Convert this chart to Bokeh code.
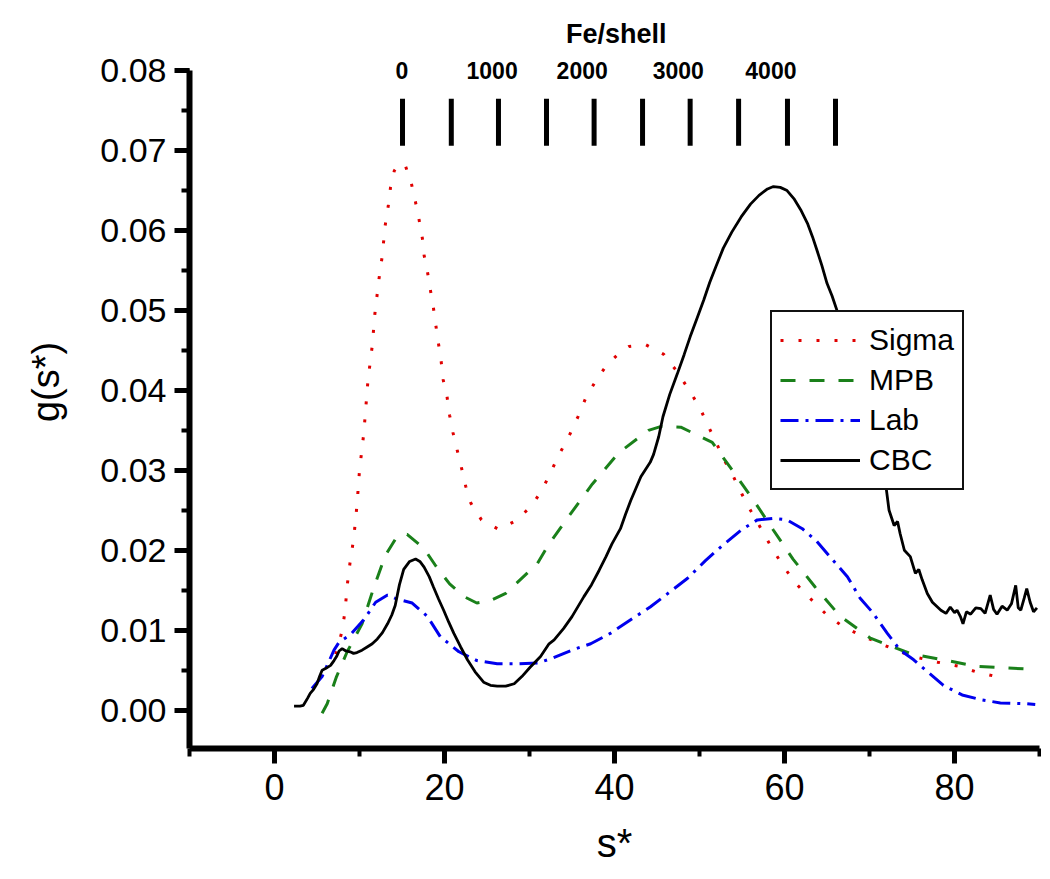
from bokeh.plotting import figure
from bokeh.models import SingleIntervalTicker, PrintfTickFormatter, Legend, LegendItem
from bokeh.core.properties import value
from bokeh.embed import file_html
from bokeh.resources import INLINE

# ---------------- data ----------------
sigma_s = [7.2, 7.6, 8.0, 8.3, 8.6, 8.95, 9.3, 9.7, 10.0, 10.5, 11.0, 11.5, 11.8, 12.3, 12.7, 13.0,
           13.4, 13.65, 14.1, 14.7, 15.4, 16.1, 16.6, 17.0, 17.4, 17.6, 18.0, 18.35, 18.7, 19.0,
           19.3, 19.6, 19.85, 20.3, 20.6, 21.0, 21.5, 22.0, 22.5, 23.1, 24.35, 26.4, 28.4, 30.3,
           31.6, 33.6, 34.7, 35.7, 36.6, 37.8, 39.1, 40.9, 41.7, 43.7, 45.8, 47.4, 48.8, 50.0,
           51.0, 52.0, 52.9, 54.0, 55.0, 56.1, 57.3, 58.5, 59.8, 61.2, 63.0, 64.8, 66.8, 68.9,
           70.9, 73.1, 75.2, 78.0, 80.5, 82.5, 84.5]
sigma_g = [0.0070, 0.0085, 0.0101, 0.0125, 0.0160, 0.0190, 0.0213, 0.0256, 0.0300, 0.0346, 0.0413,
           0.0456, 0.0495, 0.0540, 0.0570, 0.0605, 0.0632, 0.0654, 0.0675, 0.0684, 0.0681, 0.0659,
           0.0635, 0.0614, 0.0590, 0.0569, 0.0548, 0.0525, 0.0503, 0.0480, 0.0458, 0.0437, 0.0413,
           0.0392, 0.0369, 0.0347, 0.0325, 0.0303, 0.0280, 0.0259, 0.0238, 0.0226, 0.0237, 0.0256,
           0.0278, 0.0322, 0.0344, 0.0367, 0.0390, 0.0412, 0.0432, 0.0450, 0.0455, 0.0457, 0.0445,
           0.0423, 0.0400, 0.0379, 0.0356, 0.0334, 0.0313, 0.0292, 0.0270, 0.0248, 0.0226, 0.0203,
           0.0181, 0.0160, 0.0140, 0.0121, 0.0105, 0.0094, 0.0085, 0.0075, 0.0067, 0.0060, 0.0055,
           0.0048, 0.0043]

mpb_s = [5.6, 6.2, 7.3, 8.55, 10.3, 11.7, 13.06, 14.4, 15.6, 17.6, 19.0, 20.6, 22.3, 23.8, 25.4,
         27.2, 29.7, 30.9, 32.3, 35.0, 37.4, 40.5, 44.0, 45.5, 47.8, 51.5, 54.0, 56.4, 58.7, 61.0,
         63.6, 66.5, 70.1, 75.0, 78.7, 82.5, 85.8, 89.5]
mpb_g = [-0.0004, 0.0008, 0.0042, 0.0073, 0.0108, 0.0154, 0.0194, 0.0217, 0.0220, 0.0202, 0.0180,
         0.0158, 0.0142, 0.0134, 0.0137, 0.0146, 0.0171, 0.0183, 0.0208, 0.0248, 0.0283, 0.0322,
         0.0350, 0.0355, 0.0354, 0.0335, 0.0298, 0.0262, 0.0225, 0.0189, 0.0154, 0.0118, 0.0090,
         0.0070, 0.0063, 0.0055, 0.0053, 0.0051]

lab_s = [4.4, 5.6, 7.0, 7.6, 8.9, 10.5, 11.9, 13.3, 14.4, 16.2, 18.0, 19.5, 21.7, 23.8, 26.2, 28.6,
         31.0, 32.7, 35.2, 37.2, 39.5, 41.9, 44.2, 46.4, 48.6, 50.7, 52.7, 55.0, 56.8, 58.7, 60.3,
         62.1, 63.8, 65.5, 67.4, 68.9, 70.3, 72.1, 73.6, 75.2, 76.6, 78.7, 80.9, 83.1, 85.4, 88.5, 89.5]
lab_g = [0.0027, 0.0042, 0.0075, 0.0085, 0.0094, 0.0113, 0.0135, 0.0144, 0.0139, 0.0134, 0.0117,
         0.0092, 0.0073, 0.0062, 0.0058, 0.0058, 0.0059, 0.0065, 0.0076, 0.0083, 0.0096, 0.0113,
         0.0129, 0.0147, 0.0165, 0.0187, 0.0206, 0.0226, 0.0238, 0.0240, 0.0238, 0.0227, 0.0211,
         0.0190, 0.0167, 0.0140, 0.0123, 0.0096, 0.0075, 0.0063, 0.0050, 0.0031, 0.0019, 0.0013,
         0.0009, 0.0008, 0.0007]

cbc_s = [2.3, 3.0, 3.4, 3.9, 4.2, 4.6, 5.0, 5.3, 5.6, 6.0, 6.6, 7.0, 7.3, 7.6, 7.96, 8.4, 8.9, 9.3,
         9.7, 10.3, 10.9, 11.5, 12.1, 12.7, 13.3, 13.8, 14.2, 14.7, 15.2, 15.9, 16.6, 17.1, 17.6,
         18.2, 18.7, 19.3, 19.9, 20.5, 21.1, 21.9, 22.7, 23.6, 24.6, 25.4, 26.2, 27.2, 28.2, 29.1,
         30.1, 31.3, 32.3, 32.9, 34.0, 35.0, 36.4, 37.3, 38.2, 39.0, 39.7, 40.7, 41.3, 41.9, 42.5,
         43.1, 44.2, 44.6, 45.2, 45.7, 46.5, 47.4, 48.2, 48.9, 49.7, 50.5, 51.2, 51.9, 52.8, 53.8,
         54.9, 56.0, 57.0, 58.0, 58.7, 59.5, 60.3, 61.1, 61.9, 62.7, 63.3, 63.8, 64.4, 65.0, 65.6,
         66.3, 68.0, 70.0, 71.9, 72.3, 72.9, 73.3, 73.6, 74.1, 74.8, 75.4, 75.8, 76.2, 76.8, 77.4,
         77.9, 78.4, 79.0, 79.5, 80.0, 80.3, 80.7, 81.0, 81.4, 81.9, 82.5, 83.1, 83.6, 84.2, 84.6,
         85.0, 85.6, 86.2, 86.7, 87.2, 87.5, 87.8, 88.2, 88.5, 88.9, 89.3, 89.7]
cbc_g = [0.0005, 0.0005, 0.0006, 0.0015, 0.0021, 0.0026, 0.0033, 0.0042, 0.0050, 0.0052, 0.0056,
         0.0062, 0.0067, 0.0074, 0.0077, 0.0074, 0.0073, 0.0071, 0.0072, 0.0075, 0.0079, 0.0083,
         0.0089, 0.0097, 0.0108, 0.0119, 0.0131, 0.0157, 0.0176, 0.0186, 0.0189, 0.0186, 0.0179,
         0.0167, 0.0154, 0.0139, 0.0125, 0.0110, 0.0096, 0.0079, 0.0063, 0.0048, 0.0035, 0.0031,
         0.0030, 0.0030, 0.0033, 0.0042, 0.0054, 0.0067, 0.0083, 0.0088, 0.0102, 0.0117, 0.0142,
         0.0157, 0.0175, 0.0192, 0.0208, 0.0227, 0.0245, 0.0262, 0.0277, 0.0292, 0.0310, 0.0320,
         0.0342, 0.0367, 0.0395, 0.0421, 0.0445, 0.0467, 0.0490, 0.0513, 0.0535, 0.0554, 0.0578,
         0.0598, 0.0617, 0.0633, 0.0644, 0.0652, 0.0655, 0.0654, 0.0650, 0.0640, 0.0626, 0.0609,
         0.0592, 0.0576, 0.0556, 0.0534, 0.0518, 0.0496, 0.0430, 0.0355, 0.0283, 0.0250, 0.0231,
         0.0236, 0.0221, 0.0200, 0.0192, 0.0171, 0.0176, 0.0163, 0.0146, 0.0135, 0.0130, 0.0125,
         0.0121, 0.0129, 0.0122, 0.0125, 0.0117, 0.0108, 0.0123, 0.0120, 0.0128, 0.0127, 0.0121,
         0.0144, 0.0126, 0.0120, 0.0130, 0.0125, 0.0133, 0.0156, 0.0128, 0.0125, 0.0140, 0.0152,
         0.0135, 0.0123, 0.0128]

# Fe/shell secondary scale (tick positions in s* units)
fe_tick_values = [0, 500, 1000, 1500, 2000, 2500, 3000, 3500, 4000, 4500]
fe_tick_s = [15.06, 20.8, 26.35, 32.0, 37.6, 43.3, 48.9, 54.6, 60.35, 66.0]
fe_labels = ["0", "1000", "2000", "3000", "4000"]
fe_label_s = [15.0, 25.6, 36.2, 47.5, 58.4]
fe_title = "Fe/shell"

series_names = ["Sigma", "MPB", "Lab", "CBC"]

# ---------------- figure ----------------
FONT = "Liberation Sans"
Y0, Y1 = -0.0048, 0.0869

p = figure(frame_width=850, frame_height=733,
           min_border_left=189, min_border_right=2, min_border_top=15, min_border_bottom=122,
           x_range=(-10, 90), y_range=(Y0, Y1),
           output_backend="svg", toolbar_location=None,
           background_fill_color="white", border_fill_color="white")
p.outline_line_color = None
p.xgrid.visible = False
p.ygrid.visible = False

# axes
for ax in (p.xaxis[0], p.yaxis[0]):
    ax.axis_line_width = 6
    ax.axis_line_color = "black"
    ax.major_tick_line_width = 5
    ax.major_tick_line_color = "black"
    ax.minor_tick_line_width = 4
    ax.minor_tick_line_color = "black"
    ax.major_tick_in = 0
    ax.major_tick_out = 15
    ax.minor_tick_in = 0
    ax.minor_tick_out = 8
    ax.major_label_text_font = FONT
    ax.major_label_text_color = "black"
    ax.axis_label_text_font = FONT
    ax.axis_label_text_font_style = "normal"
    ax.axis_label_text_color = "black"

p.xaxis.ticker = SingleIntervalTicker(interval=20, num_minor_ticks=2)
p.xaxis.major_label_text_font_size = "36px"
p.xaxis.major_label_standoff = 10
p.xaxis.axis_label = "s*"
p.xaxis.axis_label_text_font_size = "40px"
p.xaxis.axis_label_standoff = 18

p.yaxis.ticker = SingleIntervalTicker(interval=0.01, num_minor_ticks=2)
p.yaxis.formatter = PrintfTickFormatter(format="%.2f")
p.yaxis.bounds = (Y0, 0.08)
p.yaxis.major_label_text_font_size = "34px"
p.yaxis.major_label_standoff = 8
p.yaxis.axis_label = "g(s*)"
p.yaxis.axis_label_text_font_size = "38px"
p.yaxis.axis_label_standoff = 30

# curves
r_sigma = p.line(sigma_s, sigma_g, line_color="#e00000", line_width=3, line_dash="3 15")
r_mpb = p.line(mpb_s, mpb_g, line_color="#1a801a", line_width=3, line_dash="15 14")
r_lab = p.line(lab_s, lab_g, line_color="#0000ee", line_width=3, line_dash="18 7 3 7")
r_cbc = p.line(cbc_s, cbc_g, line_color="black", line_width=2.8)

# Fe/shell scale drawn inside the plot
p.segment(x0=fe_tick_s, y0=[0.0706] * len(fe_tick_s), x1=fe_tick_s, y1=[0.0765] * len(fe_tick_s),
          line_color="black", line_width=5)
p.text(x=fe_label_s, y=[0.0800] * len(fe_label_s), text=fe_labels,
       text_font=value(FONT), text_font_style="bold", text_font_size="23px",
       text_align="center", text_baseline="middle", text_color="black")
p.text(x=[40.2], y=[0.0846], text=[fe_title],
       text_font=value(FONT), text_font_style="bold", text_font_size="27px",
       text_align="center", text_baseline="middle", text_color="black")

legend = Legend(items=[LegendItem(label=n, renderers=[r]) for n, r in
                       zip(series_names, [r_sigma, r_mpb, r_lab, r_cbc])],
                location=(581, 258))
legend.label_text_font = FONT
legend.label_text_font_size = "30px"
legend.label_text_color = "black"
legend.glyph_width = 80
legend.glyph_height = 40
legend.label_height = 40
legend.label_standoff = 9
legend.spacing = 0
legend.padding = 8
legend.margin = 0
legend.border_line_color = "#111111"
legend.border_line_alpha = 1.0
legend.border_line_width = 2
legend.background_fill_color = "white"
legend.background_fill_alpha = 1.0
p.add_layout(legend, "center")

open("out.html", "w").write(file_html(p, INLINE))
